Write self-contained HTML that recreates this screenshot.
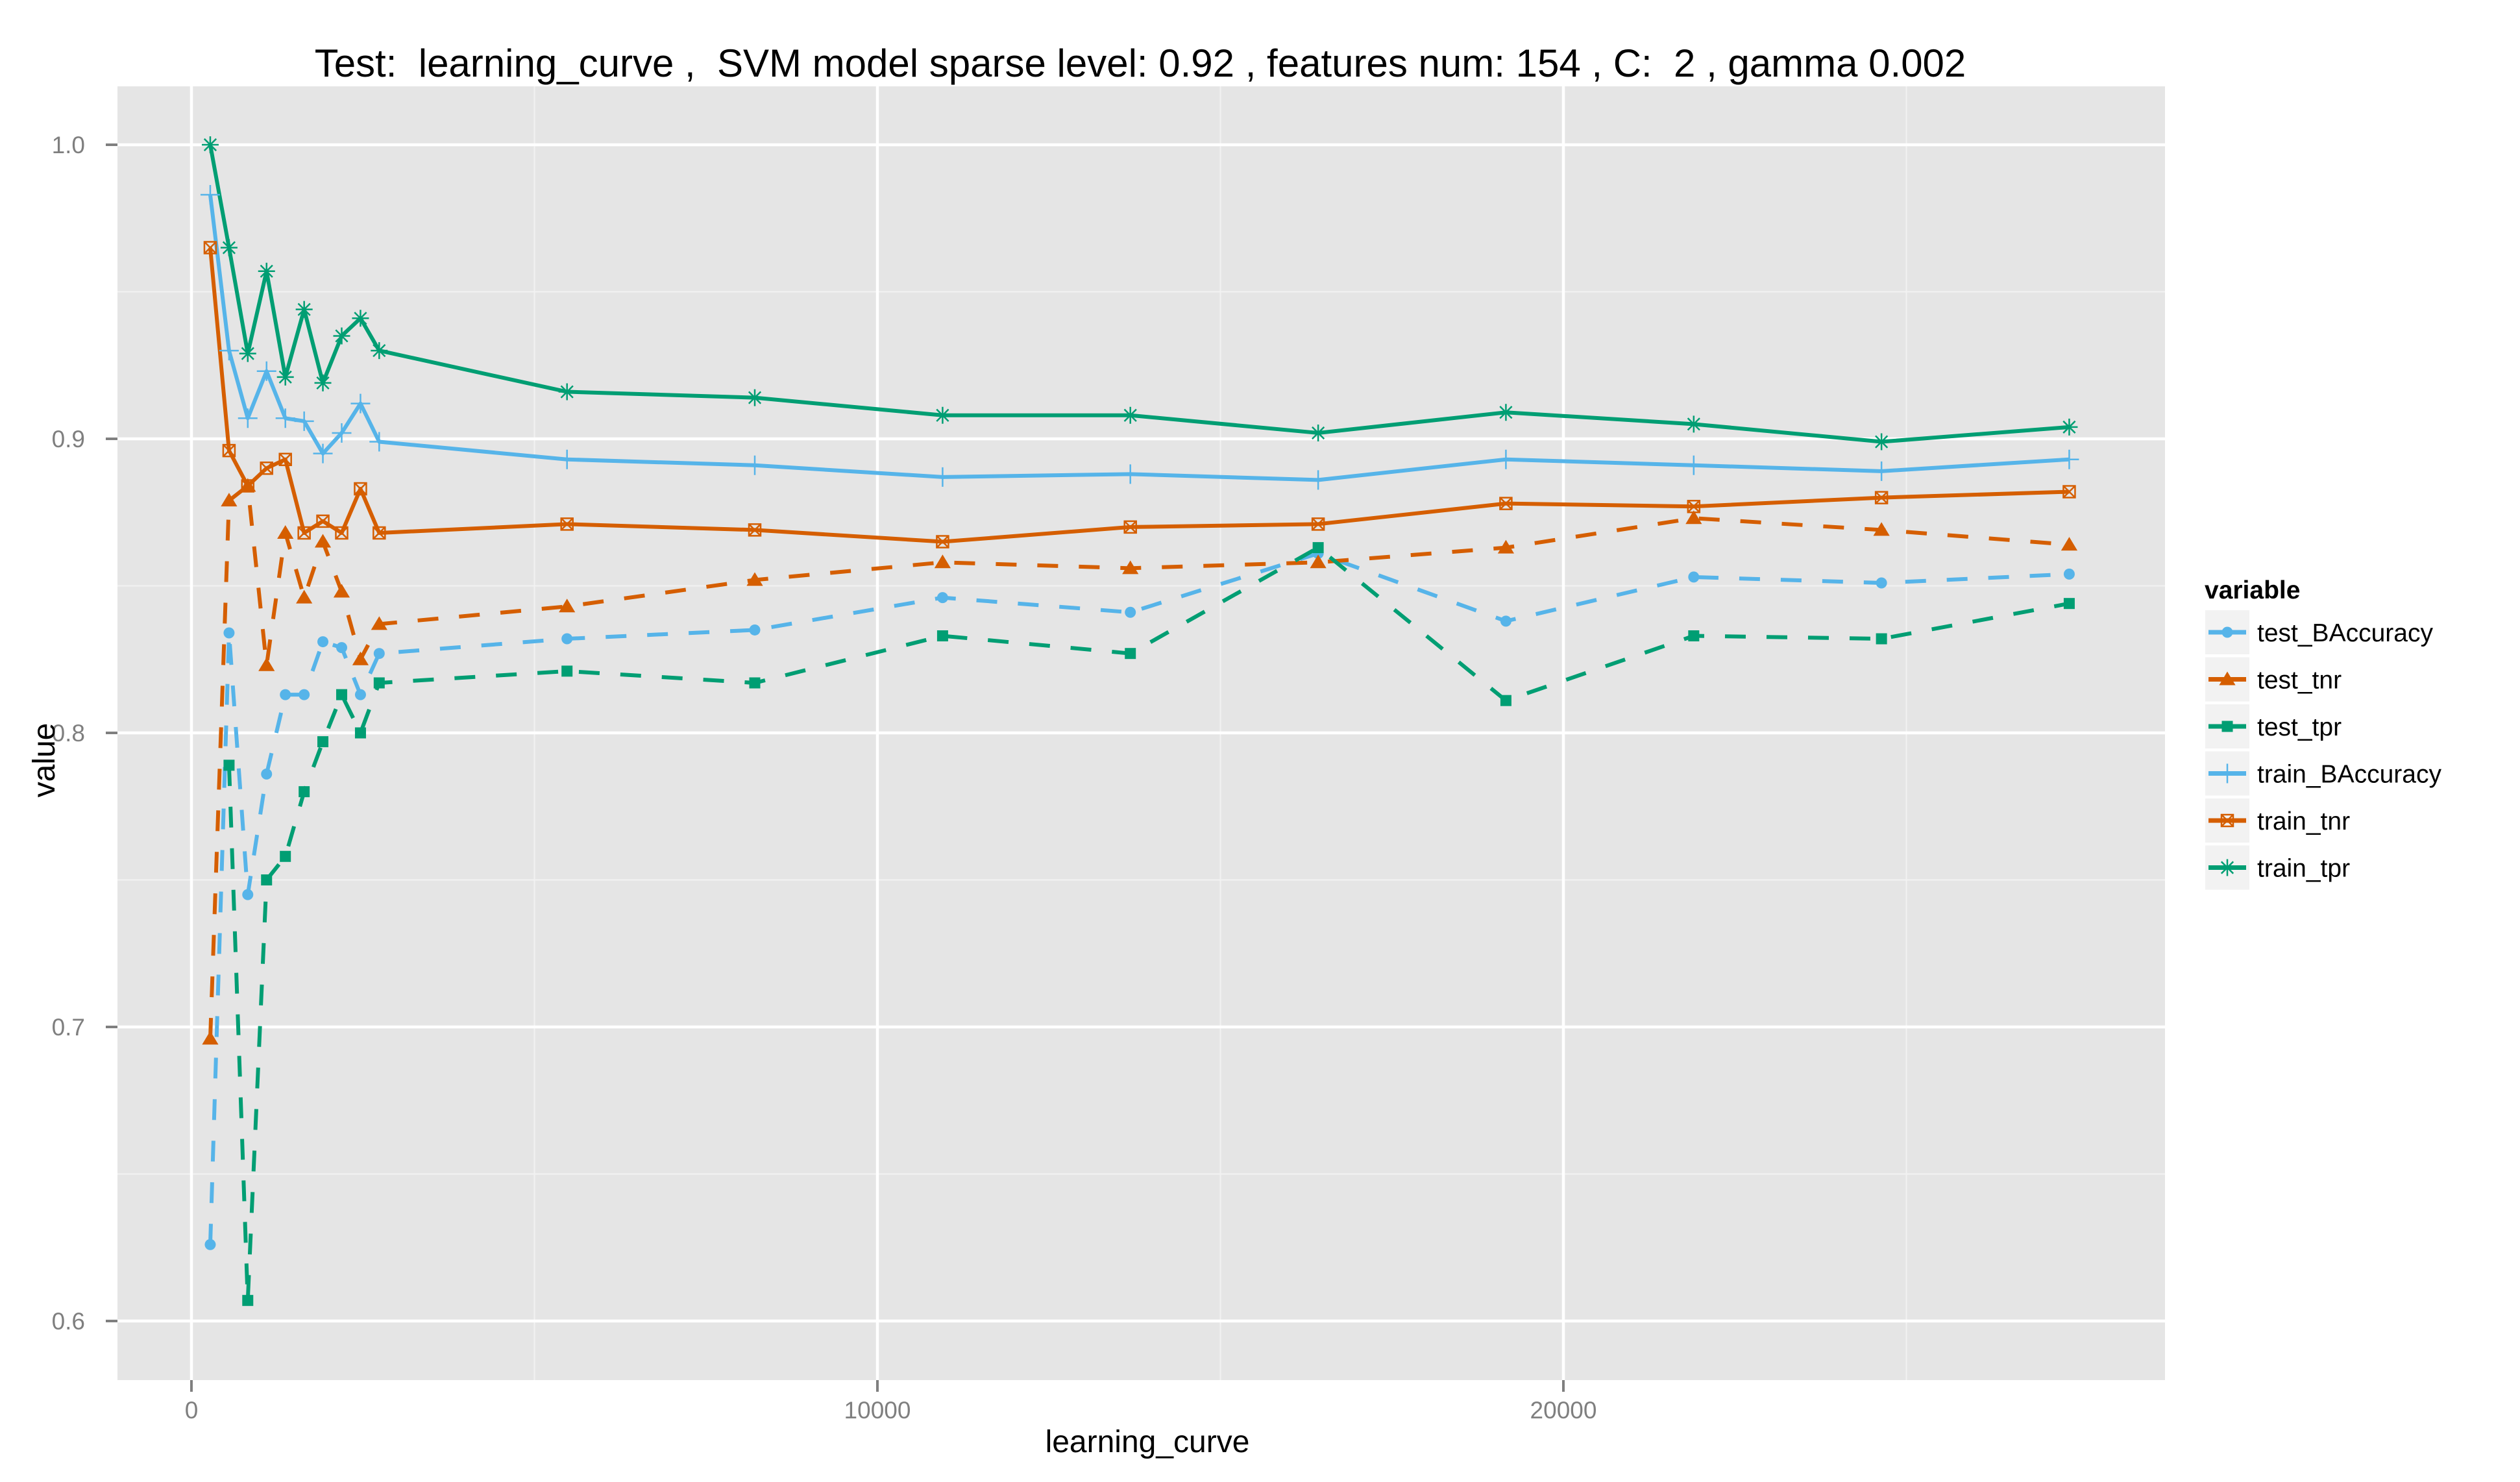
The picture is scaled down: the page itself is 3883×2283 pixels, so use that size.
<!DOCTYPE html>
<html><head><meta charset="utf-8"><style>
html,body{margin:0;padding:0;background:#fff;}
svg{display:block;font-family:"Liberation Sans",Arial,sans-serif;}
</style></head><body>
<svg id="chart" width="3883" height="2283" viewBox="0 0 3883 2283" xmlns="http://www.w3.org/2000/svg">
<rect width="3883" height="2283" fill="#fff"/>
<text x="1757" y="118" text-anchor="middle" font-size="60" fill="#000" xml:space="preserve" style="white-space:pre">Test:  learning_curve ,  SVM model sparse level: 0.92 , features num: 154 , C:  2 , gamma 0.002</text>
<rect x="181" y="133" width="3155" height="1993" fill="#e5e5e5"/>
<g id="grid"></g>
<g id="series"></g>
<g id="axes"></g>
<text x="1768" y="2237" text-anchor="middle" font-size="48" fill="#000">learning_curve</text>
<text x="0" y="0" transform="translate(84,1171) rotate(-90)" text-anchor="middle" font-size="48" fill="#000">value</text>
<g id="legend">
<text x="3397" y="922" font-size="39" font-weight="bold" fill="#000">variable</text>
</g>
</svg>
<script>
const xValues = [274,548,821,1095,1369,1643,1916,2190,2464,2737,5475,8212,10950,13687,16425,19162,21900,24637,27374];
const seriesNames = ["test_BAccuracy","test_tnr","test_tpr","train_BAccuracy","train_tnr","train_tpr"];
const testBAccuracy = [0.626,0.834,0.745,0.786,0.813,0.813,0.831,0.829,0.813,0.827,0.832,0.835,0.846,0.841,0.861,0.838,0.853,0.851,0.854];
const testTnr = [0.696,0.879,0.884,0.823,0.868,0.846,0.865,0.848,0.825,0.837,0.843,0.852,0.858,0.856,0.858,0.863,0.873,0.869,0.864];
const testTpr = [null,0.789,0.607,0.750,0.758,0.780,0.797,0.813,0.800,0.817,0.821,0.817,0.833,0.827,0.863,0.811,0.833,0.832,0.844];
const trainBAccuracy = [0.983,0.930,0.907,0.923,0.907,0.906,0.895,0.902,0.912,0.899,0.893,0.891,0.887,0.888,0.886,0.893,0.891,0.889,0.893];
const trainTnr = [0.965,0.896,0.884,0.890,0.893,0.868,0.872,0.868,0.883,0.868,0.871,0.869,0.865,0.870,0.871,0.878,0.877,0.880,0.882];
const trainTpr = [1.000,0.965,0.929,0.957,0.921,0.944,0.919,0.935,0.941,0.930,0.916,0.914,0.908,0.908,0.902,0.909,0.905,0.899,0.904];
const yTicks = [0.6,0.7,0.8,0.9,1.0];
const yTickLabels = ["0.6","0.7","0.8","0.9","1.0"];
const xTicks = [0,10000,20000];
const xTickLabels = ["0","10000","20000"];

const NS="http://www.w3.org/2000/svg";
const PL=181,PR=3336,PT=133,PB=2126;
function sx(v){return 295+v*0.1057;}
function sy(v){return 223+(1.0-v)*4530;}
function mk(tag,attrs,parent){const e=document.createElementNS(NS,tag);for(const k in attrs)e.setAttribute(k,attrs[k]);parent.appendChild(e);return e;}
const grid=document.getElementById('grid'),ser=document.getElementById('series'),axes=document.getElementById('axes'),leg=document.getElementById('legend');

for(let i=0;i<yTicks.length-1;i++){const v=(yTicks[i]+yTicks[i+1])/2;
  const l=mk('line',{x1:PL,x2:PR,y1:sy(v),y2:sy(v),stroke:'#f2f2f2','stroke-width':2},grid);
  
  }
for(let i=0;i<xTicks.length;i++){const v=xTicks[i]+5000;
  const l=mk('line',{x1:sx(v),x2:sx(v),y1:PT,y2:PB,stroke:'#f2f2f2','stroke-width':2},grid);
  
  }
yTicks.forEach((v,i)=>{
  const l=mk('line',{x1:PL,x2:PR,y1:sy(v),y2:sy(v),stroke:'#fff','stroke-width':4.5},grid);
  
  
  const t=mk('line',{x1:PL-18,x2:PL,y1:sy(v),y2:sy(v),stroke:'#7f7f7f','stroke-width':4},axes);
  
  
  const tx=mk('text',{x:PL-50,y:sy(v)+13,'text-anchor':'end','font-size':37,fill:'#7f7f7f'},axes);
  tx.textContent=yTickLabels[i];
  
  
});
xTicks.forEach((v,i)=>{
  const l=mk('line',{x1:sx(v),x2:sx(v),y1:PT,y2:PB,stroke:'#fff','stroke-width':4.5},grid);
  
  
  const t=mk('line',{x1:sx(v),x2:sx(v),y1:PB,y2:PB+18,stroke:'#7f7f7f','stroke-width':4},axes);
  
  
  const tx=mk('text',{x:sx(v),y:2185,'text-anchor':'middle','font-size':37,fill:'#7f7f7f'},axes);
  tx.textContent=xTickLabels[i];
  
  
});

const BLUE='#56b4e9',ORANGE='#d55e00',GREEN='#009e73';
const styles=[
 {data:testBAccuracy,color:BLUE,dash:true,shape:'circle'},
 {data:testTnr,color:ORANGE,dash:true,shape:'triangle'},
 {data:testTpr,color:GREEN,dash:true,shape:'square'},
 {data:trainBAccuracy,color:BLUE,dash:false,shape:'plus'},
 {data:trainTnr,color:ORANGE,dash:false,shape:'squarex'},
 {data:trainTpr,color:GREEN,dash:false,shape:'asterisk'}];

function shape(g,kind,x,y,c){
  if(kind==='circle') return mk('circle',{cx:x,cy:y,r:8.5,fill:c},g);
  if(kind==='triangle'){const h=12;return mk('polygon',{points:`${x},${y-h} ${x+h*1.05},${y+h*0.75} ${x-h*1.05},${y+h*0.75}`,fill:c},g);}
  if(kind==='square') return mk('rect',{x:x-8.5,y:y-8.5,width:17,height:17,fill:c},g);
  if(kind==='plus'){const h=15;return mk('path',{d:`M${x-h},${y}H${x+h}M${x},${y-h}V${y+h}`,stroke:c,'stroke-width':2.5,fill:'none'},g);}
  if(kind==='squarex'){const h=9;return mk('path',{d:`M${x-h},${y-h}h${2*h}v${2*h}h${-2*h}zM${x-h},${y-h}L${x+h},${y+h}M${x+h},${y-h}L${x-h},${y+h}`,stroke:c,'stroke-width':2.5,fill:'none'},g);}
  if(kind==='asterisk'){const h=13,d=h*0.707;return mk('path',{d:`M${x-h},${y}H${x+h}M${x},${y-h}V${y+h}M${x-d},${y-d}L${x+d},${y+d}M${x+d},${y-d}L${x-d},${y+d}`,stroke:c,'stroke-width':2.5,fill:'none'},g);}
}

styles.forEach((st,si)=>{
  let d='',pen=false;
  st.data.forEach((v,i)=>{ if(v===null){pen=false;return;} d+=(pen?'L':'M')+sx(xValues[i])+','+sy(v); pen=true;});
  const p=mk('path',{d:d,fill:'none',stroke:st.color,'stroke-width':6,'stroke-linejoin':'round'},ser);
  if(st.dash) p.setAttribute('stroke-dasharray','32 32');
  
  
});
styles.forEach((st,si)=>{
  st.data.forEach((v,i)=>{ if(v===null)return;
    const m=shape(ser,st.shape,sx(xValues[i]),sy(v),st.color);
    
    
  });
});

styles.forEach((st,i)=>{
  const y0=940+i*72.5;
  const bx=mk('rect',{x:3398,y:y0,width:68,height:68,fill:'#f2f2f2'},leg);
  
  
  const ln=mk('line',{x1:3403,x2:3461,y1:y0+34,y2:y0+34,stroke:st.color,'stroke-width':7},leg);
  
  
  const m=shape(leg,st.shape,3432,y0+34,st.color);
  
  
  const t=mk('text',{x:3478,y:y0+48,'font-size':39,fill:'#000'},leg);
  t.textContent=seriesNames[i];
  
  
});
</script>
</body></html>
